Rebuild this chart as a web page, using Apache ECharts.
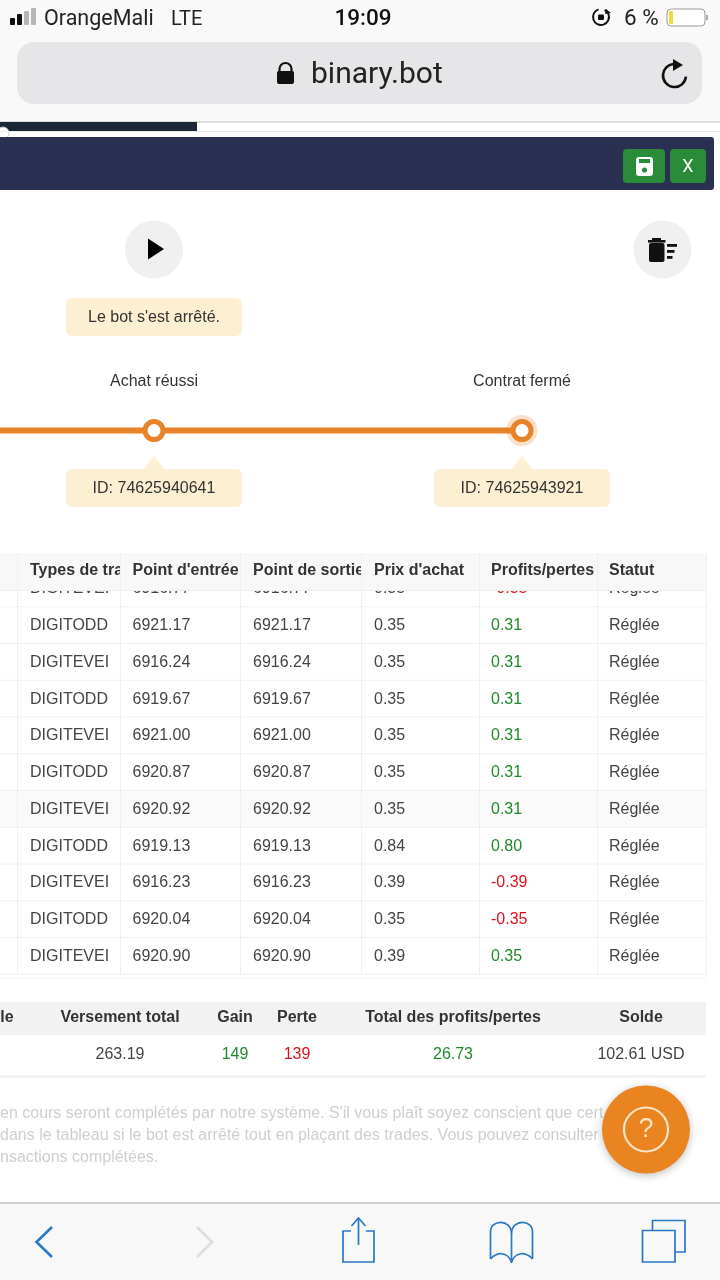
<!DOCTYPE html>
<html>
<head>
<meta charset="utf-8">
<title>binary.bot</title>
<style>
    html, body { margin: 0; padding: 0; background: #fff; }
    #chart { width: 720px; height: 1280px; }
</style>
<script src="https://cdn.jsdelivr.net/npm/echarts@6/dist/echarts.min.js"></script>
</head>
<body>
<div id="chart"></div>
<script>
'use strict';

// timeline
var stageIndex = [0, 1, 2];
var stageLevel = [1, 1, 1];
var stageNames = ['', 'Achat réussi', 'Contrat fermé'];
var stageIds = ['', 'ID: 74625940641', 'ID: 74625943921'];

// transactions table
var tableHeaders = ['Types de tra', "Point d'entrée", 'Point de sortie', "Prix d'achat", 'Profits/pertes', 'Statut'];
var tradeTypes = ['DIGITEVEI', 'DIGITODD', 'DIGITEVEI', 'DIGITODD', 'DIGITEVEI', 'DIGITODD', 'DIGITEVEI', 'DIGITODD', 'DIGITEVEI', 'DIGITODD', 'DIGITEVEI'];
var entrySpots = ['6916.77', '6921.17', '6916.24', '6919.67', '6921.00', '6920.87', '6920.92', '6919.13', '6916.23', '6920.04', '6920.90'];
var exitSpots = ['6916.77', '6921.17', '6916.24', '6919.67', '6921.00', '6920.87', '6920.92', '6919.13', '6916.23', '6920.04', '6920.90'];
var buyPrices = ['0.35', '0.35', '0.35', '0.35', '0.35', '0.35', '0.35', '0.84', '0.39', '0.35', '0.39'];
var profits = ['-0.35', '0.31', '0.31', '0.31', '0.31', '0.31', '0.31', '0.80', '-0.39', '-0.35', '0.35'];
var statuses = ['Réglée', 'Réglée', 'Réglée', 'Réglée', 'Réglée', 'Réglée', 'Réglée', 'Réglée', 'Réglée', 'Réglée', 'Réglée'];

// summary table
var summaryHeaders = ['le', 'Versement total', 'Gain', 'Perte', 'Total des profits/pertes', 'Solde'];
var summaryValues = ['', '263.19', '149', '139', '26.73', '102.61 USD'];

var noteLines = [
    "en cours seront complétés par notre système. S'il vous plaît soyez conscient que cert",
    'dans le tableau si le bot est arrêté tout en plaçant des trades. Vous pouvez consulter',
    'nsactions complétées.'
];

var FONT = 'Liberation Sans';
var UI_FONT = 'Roboto';
var GREEN = '#1f8a2b';
var RED = '#d8141c';
var ORANGE = '#e8832a';
var BLUE = '#2a78c8';

var items = [];

function rect(x, y, w, h, fill, r, z) {
    items.push({
        type: 'rect', z: z || 0,
        shape: { x: x, y: y, width: w, height: h, r: r || 0 },
        style: { fill: fill }
    });
}

function text(str, x, y, font, fill, align, z) {
    items.push({
        type: 'text', z: z || 0,
        style: { text: str, x: x, y: y + 1, font: font, fill: fill, textAlign: align || 'left', textVerticalAlign: 'middle' }
    });
}

function stroke(points, color, width, z) {
    items.push({
        type: 'polyline', z: z || 0,
        shape: { points: points },
        style: { stroke: color, lineWidth: width, fill: null }
    });
}

function polygon(points, fill, z) {
    items.push({ type: 'polygon', z: z || 0, shape: { points: points }, style: { fill: fill } });
}

function circle(cx, cy, r, style, z) {
    items.push({ type: 'circle', z: z || 0, shape: { cx: cx, cy: cy, r: r }, style: style });
}

function curve(x1, y1, cx1, cy1, cx2, cy2, x2, y2, color, width) {
    items.push({
        type: 'bezierCurve',
        shape: { x1: x1, y1: y1, cpx1: cx1, cpy1: cy1, cpx2: cx2, cpy2: cy2, x2: x2, y2: y2 },
        style: { stroke: color, lineWidth: width, fill: null }
    });
}

function drawStatusBar() {
    rect(0, 0, 720, 122, '#f9f9f9');
    rect(10, 18, 5, 7, '#111', 1);
    rect(17, 14, 5, 11, '#111', 1);
    rect(24, 11, 5, 14, '#b5b5b5', 1);
    rect(31, 8, 5, 17, '#b5b5b5', 1);
    text('OrangeMali', 44, 18.5, '21.5px ' + UI_FONT, '#222');
    text('LTE', 171, 18.5, '20px ' + UI_FONT, '#222');
    text('19:09', 363, 18.5, '500 22.5px ' + UI_FONT, '#111', 'center');

    // rotation lock
    items.push({ type: 'arc', shape: { cx: 601, cy: 17, r: 8, startAngle: -1.1, endAngle: 4.4 }, style: { stroke: '#111', lineWidth: 2, fill: null } });
    rect(598, 14.5, 6, 5.5, '#111', 1);
    polygon([[606, 9], [611, 13], [605, 14]], '#111');
    text('6 %', 624, 18.5, '22.5px ' + UI_FONT, '#222');
    rect(667, 9, 38, 17, '#fff', 4);
    items.push({ type: 'rect', shape: { x: 667, y: 9, width: 38, height: 17, r: 4 }, style: { fill: null, stroke: '#999', lineWidth: 1 } });
    rect(669, 11, 4, 13, '#f4d93a', 1);
    rect(706, 15, 2, 5, '#aaa');

    // address bar
    rect(17, 42, 685, 62, '#e6e6e8', 17);
    items.push({ type: 'arc', shape: { cx: 285.5, cy: 69, r: 6, startAngle: Math.PI, endAngle: 0 }, style: { stroke: '#111', lineWidth: 2.2, fill: null } });
    stroke([[279.5, 69], [279.5, 72]], '#111', 2.2);
    stroke([[291.5, 69], [291.5, 72]], '#111', 2.2);
    rect(277, 71, 17, 13, '#111', 2);
    text('binary.bot', 311, 74.5, '30px ' + UI_FONT, '#222');
    items.push({ type: 'arc', shape: { cx: 674.5, cy: 75.5, r: 11.5, startAngle: 0.1, endAngle: 4.6 }, style: { stroke: '#111', lineWidth: 2.6, fill: null } });
    polygon([[673, 59], [683, 65], [673, 71]], '#111');

    rect(0, 121, 720, 2, '#dedede');
    rect(0, 122, 197, 9, '#1b2636');
    circle(3, 133, 6, { fill: '#fff', stroke: '#ccc' });
    rect(0, 131, 720, 1, '#e8e8e8');
}

function drawTitleBar() {
    rect(-6, 137, 720, 53, '#2a3052', 3);
    rect(623, 149, 42, 34, '#2a8b39', 4);
    rect(670, 149, 36, 34, '#2a8b39', 4);
    rect(636, 157, 17, 19, '#fff', 3);
    rect(639, 159, 11, 4, '#2a8b39');
    circle(644.5, 170, 2.6, { fill: '#2a8b39' });
    text('X', 688, 166, '18px ' + UI_FONT, '#fff', 'center');
}

function drawControls() {
    circle(154, 249.5, 29, { fill: '#f0f0f0' });
    polygon([[148, 238.5], [164, 249], [148, 259.5]], '#000');
    circle(662.5, 249.5, 29, { fill: '#f0f0f0' });
    rect(649, 243, 15.5, 19, '#111', 2);
    rect(648, 240, 17.5, 2.6, '#111');
    rect(652, 238, 9, 2.5, '#111');
    rect(667, 244, 10, 2.8, '#111');
    rect(667, 250, 7.5, 2.8, '#111');
    rect(667, 256, 5.5, 2.8, '#111');
    rect(66, 298, 176, 38, '#fdf0d2', 6);
    text("Le bot s'est arrêté.", 154, 317, '16px ' + FONT, '#333', 'center');
}

function drawCallouts() {
    var centers = [154, 522];
    for (var i = 0; i < centers.length; i++) {
        var cx = centers[i];
        polygon([[cx, 456], [cx - 11, 470], [cx + 11, 470]], '#fdf0d2');
        rect(cx - 88, 469, 176, 38, '#fdf0d2', 6);
        text(stageIds[i + 1], cx, 488, '16px ' + FONT, '#333', 'center');
    }
}

function drawTradesTable() {
    var colX = [17, 120, 240, 361, 479, 597, 706];
    var textX = [30, 132.5, 253, 374, 491, 609];
    var rowTop = 570;
    var rowH = 36.75;
    var lineColor = '#f0f0f0';
    var columns = [tradeTypes, entrySpots, exitSpots, buyPrices, profits, statuses];

    rect(0, rowTop + 6 * rowH, 706, rowH, '#fafafa');
    for (var r = 0; r < tradeTypes.length; r++) {
        var cy = rowTop + rowH * r + rowH / 2 - 0.5;
        for (var c = 0; c < columns.length; c++) {
            var color = '#444';
            if (c === 4) {
                color = profits[r].charAt(0) === '-' ? RED : GREEN;
            }
            text(columns[c][r], textX[c], cy, '16px ' + FONT, color);
        }
        stroke([[0, rowTop + rowH * (r + 1)], [706, rowTop + rowH * (r + 1)]], lineColor, 1);
    }

    // sticky header sits over the first row
    rect(0, 553, 706, 37, '#f8f8f8');
    for (var h = 0; h < tableHeaders.length; h++) {
        text(tableHeaders[h], textX[h], 569.5, 'bold 16px ' + FONT, '#333');
        if (h < 5) {
            rect(colX[h + 1], 553, 12, 37, '#f8f8f8');
        }
    }
    for (var i = 0; i < colX.length; i++) {
        stroke([[colX[i] + 0.5, 553], [colX[i] + 0.5, 975]], lineColor, 1);
    }
    stroke([[0, 590.5], [706, 590.5]], '#eeeeee', 1);
    stroke([[0, 978], [706, 978]], lineColor, 1);
}

function drawSummaryTable() {
    var centers = [7, 120, 235, 297, 453, 641];
    var colors = ['#333', '#444', GREEN, RED, GREEN, '#444'];
    rect(0, 1002, 706, 33, '#f2f2f2');
    rect(0, 1075, 706, 3, '#f2f2f2');
    for (var i = 0; i < summaryHeaders.length; i++) {
        text(summaryHeaders[i], centers[i], 1017, 'bold 16px ' + FONT, '#333', 'center');
        if (summaryValues[i]) {
            text(summaryValues[i], centers[i], 1053.5, '16px ' + FONT, colors[i], 'center');
        }
    }
}

function drawNote() {
    for (var i = 0; i < noteLines.length; i++) {
        text(noteLines[i], 0, 1112.5 + i * 22, '16px ' + FONT, '#cfcfcf');
    }
    circle(646, 1129.5, 44, { fill: '#ea8420', shadowBlur: 8, shadowColor: 'rgba(0,0,0,0.25)', shadowOffsetY: 2 }, 3);
    circle(646, 1129.5, 22, { fill: null, stroke: '#fbe3c4', lineWidth: 2.2 }, 3);
    text('?', 646, 1129, '27px ' + FONT, '#fbe3c4', 'center', 3);
}

function drawToolbar() {
    rect(0, 1203, 720, 77, '#f8f8f8');
    rect(0, 1202, 720, 2, '#cfcfcf');
    stroke([[52, 1227], [36.5, 1242], [52, 1257]], BLUE, 2.6);
    stroke([[197, 1227], [212, 1242], [197, 1257]], '#dcdcdc', 2.6);
    // share
    stroke([[351, 1231], [343, 1231], [343, 1262], [374, 1262], [374, 1231], [366, 1231]], BLUE, 1.7);
    stroke([[358.5, 1245], [358.5, 1218]], BLUE, 1.7);
    stroke([[351.5, 1226], [358.5, 1218], [365.5, 1226]], BLUE, 1.7);
    // bookmarks
    stroke([[490.5, 1259], [490.5, 1232]], BLUE, 1.7);
    stroke([[532.5, 1259], [532.5, 1232]], BLUE, 1.7);
    stroke([[511.5, 1233], [511.5, 1263]], BLUE, 1.7);
    curve(490.5, 1232, 490.5, 1219, 511, 1219, 511.5, 1233, BLUE, 1.7);
    curve(511.5, 1233, 512, 1219, 532.5, 1219, 532.5, 1232, BLUE, 1.7);
    curve(490.5, 1259, 497, 1252, 507, 1251, 511.5, 1262, BLUE, 1.7);
    curve(511.5, 1262, 516, 1251, 526, 1252, 532.5, 1259, BLUE, 1.7);
    // tabs
    stroke([[652.5, 1230], [652.5, 1220.5], [685, 1220.5], [685, 1252], [675, 1252]], BLUE, 1.7);
    items.push({ type: 'rect', shape: { x: 642.5, y: 1230.5, width: 32.5, height: 31.5 }, style: { fill: null, stroke: BLUE, lineWidth: 1.7 } });
}

rect(0, 0, 720, 1280, '#fff');
drawStatusBar();
drawTitleBar();
drawControls();
drawCallouts();
drawTradesTable();
drawSummaryTable();
drawNote();
drawToolbar();

var lineData = [];
for (var i = 0; i < stageIndex.length; i++) {
    lineData.push([stageIndex[i], stageLevel[i]]);
}

var chart = echarts.init(document.getElementById('chart'));
chart.setOption({
    animation: false,
    textStyle: { fontFamily: FONT },
    // timeline band, stage 1 sits at x=154 and stage 2 at x=522
    grid: { left: 0, right: 0, top: 360, height: 141 },
    xAxis: { type: 'value', min: 0.5815, max: 2.538, show: false },
    yAxis: { type: 'value', min: 0, max: 2, show: false },
    graphic: { elements: items },
    series: [
        {
            type: 'scatter',
            data: [lineData[2]],
            symbolSize: 31,
            silent: true,
            itemStyle: { color: ORANGE, opacity: 0.25 },
            z: 2
        },
        {
            type: 'line',
            data: lineData,
            symbol: 'circle',
            symbolSize: 18,
            showAllSymbol: true,
            silent: true,
            lineStyle: { color: ORANGE, width: 6 },
            itemStyle: { color: '#fff', borderColor: ORANGE, borderWidth: 5 },
            label: {
                show: true,
                position: 'top',
                distance: 29,
                fontSize: 16,
                color: '#333',
                formatter: function (p) {
                    return stageNames[p.dataIndex];
                }
            },
            z: 3
        }
    ]
});
</script>
</body>
</html>
